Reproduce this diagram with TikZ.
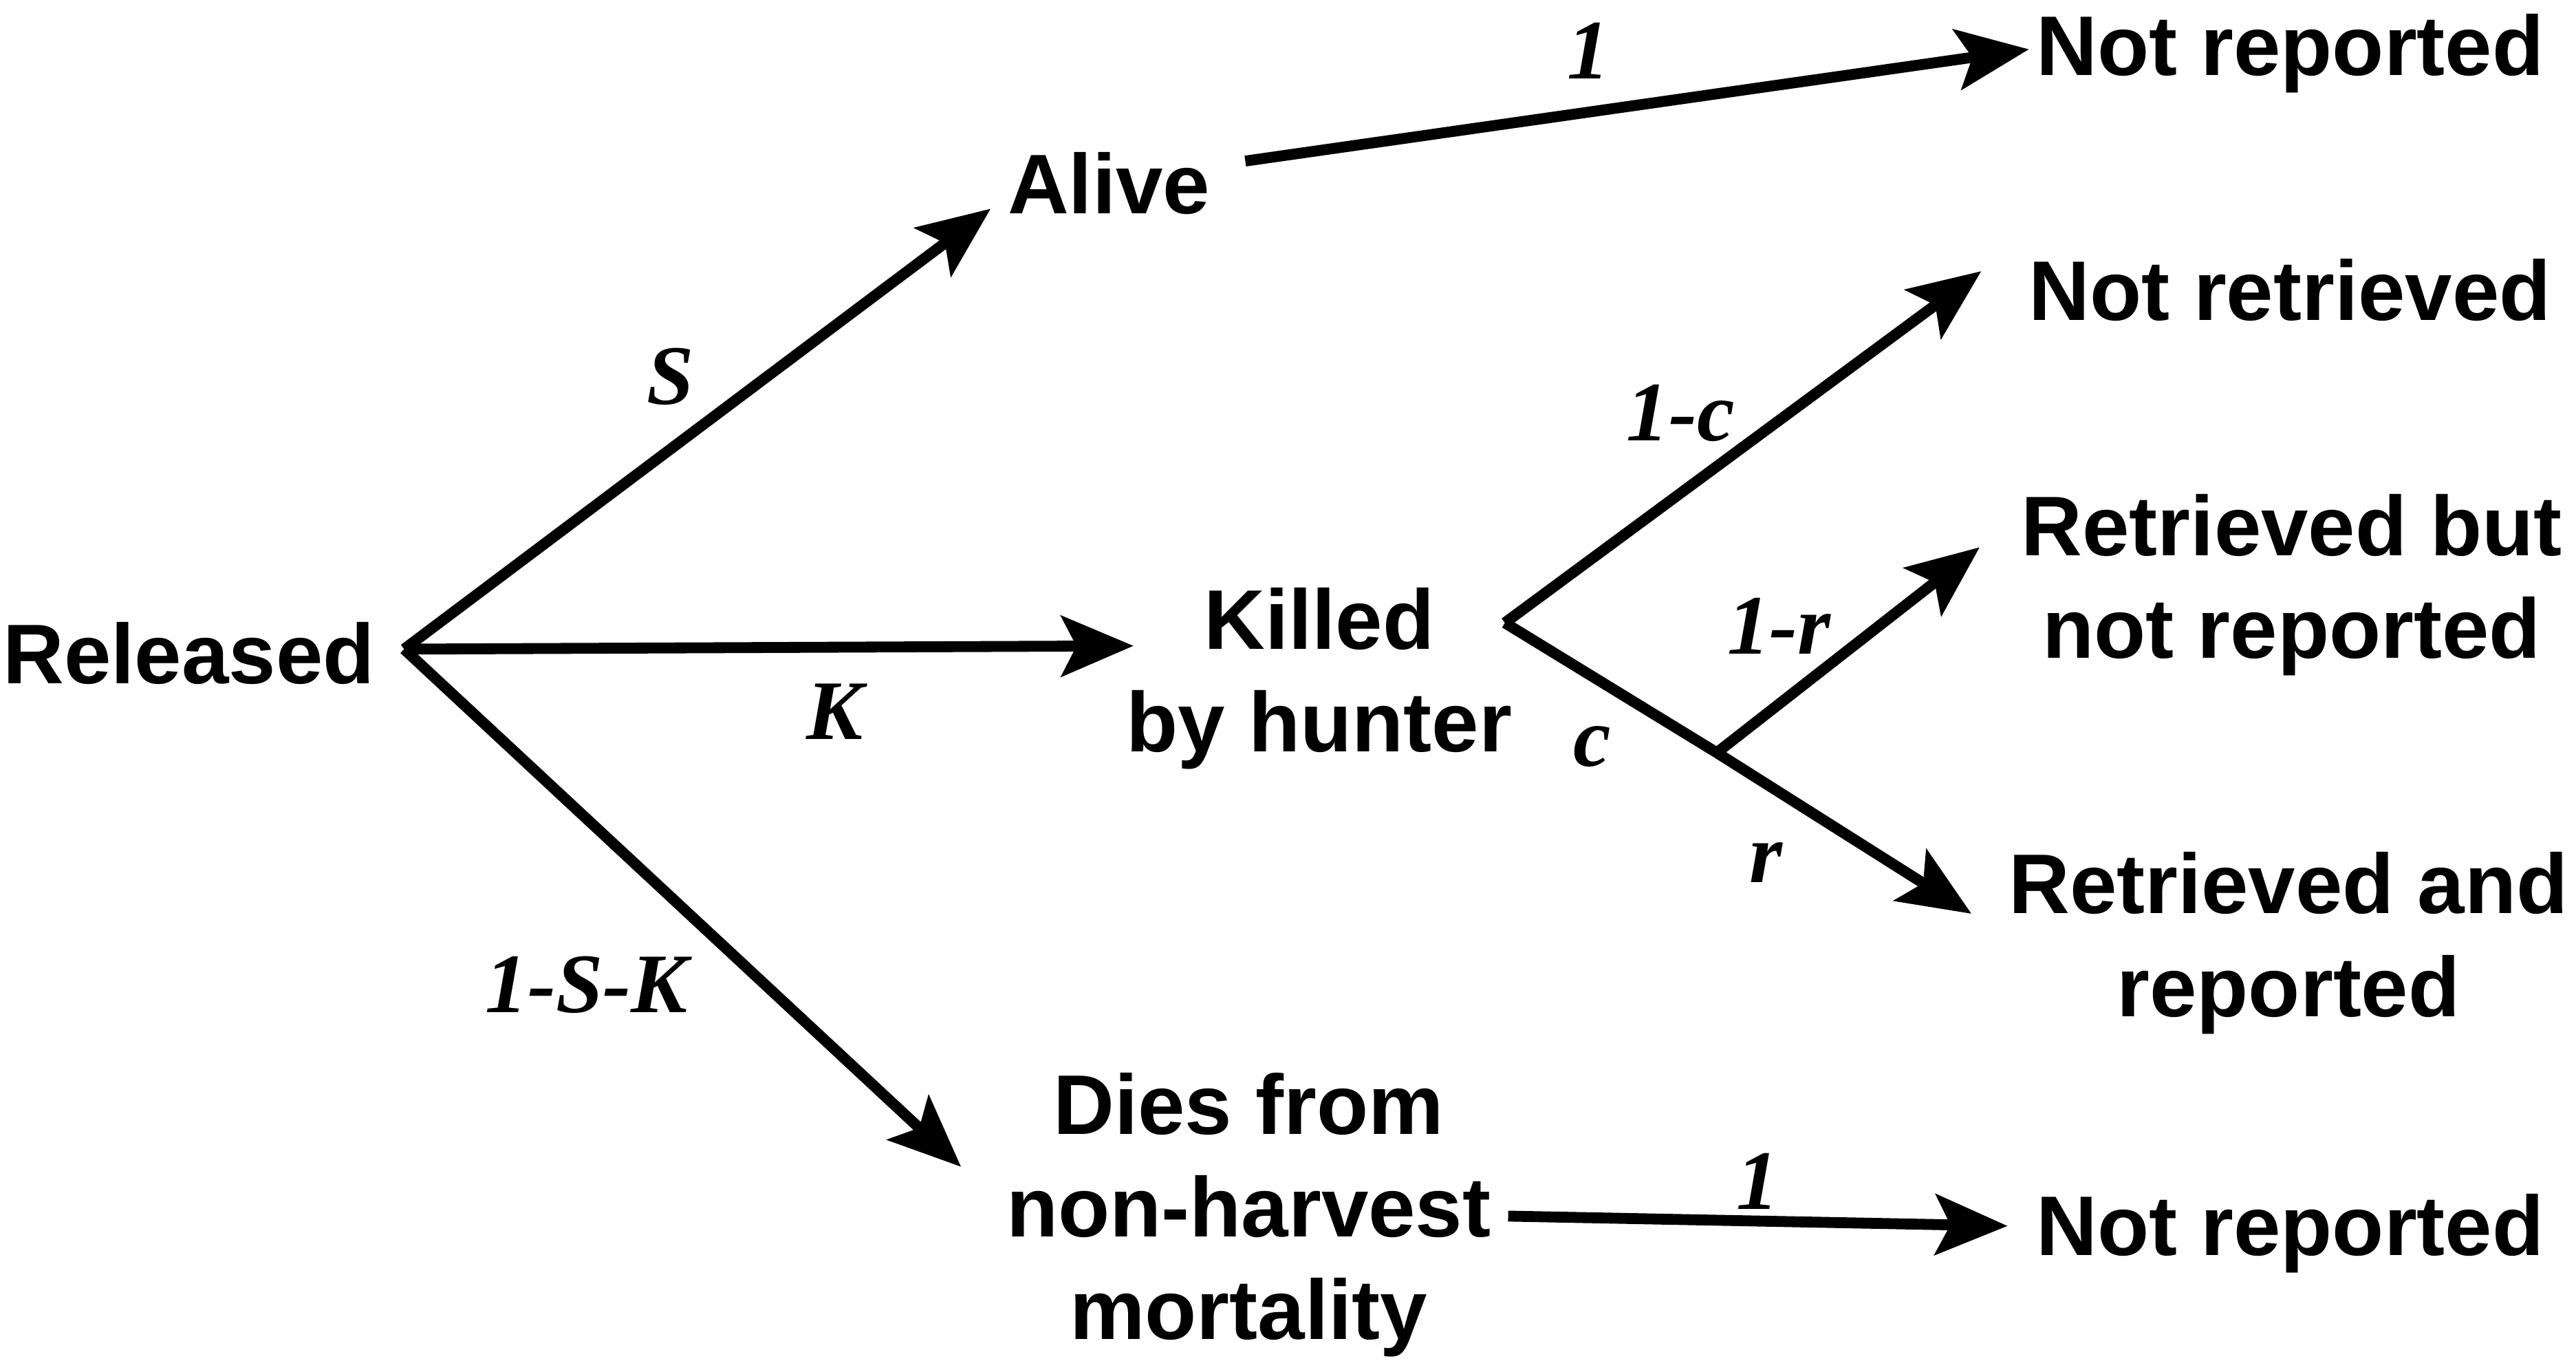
\documentclass[tikz,border=0pt]{standalone}
\usepackage{fontspec}
\setmainfont{Liberation Sans}
\newfontfamily\lblfont{Liberation Serif}
\usetikzlibrary{arrows.meta}
\newcommand{\mlines}[1]{\begin{tabular}[t]{@{}c@{}}#1\end{tabular}}
\begin{document}
\begin{tikzpicture}[x=0.02388cm, y=-0.02388cm,
  txt/.style={font=\fontsize{35}{42.5}\selectfont\bfseries, inner sep=0pt, anchor=base},
  lbl/.style={font=\fontsize{35}{42.5}\selectfont\lblfont\bfseries\itshape, inner sep=0pt, anchor=base},
  arr/.style={line width=4.5pt, -{Stealth[length=1.05cm, width=0.88cm, inset=0.22cm]}},
  seg/.style={line width=4.5pt}]
\useasboundingbox (0,0) rectangle (1568,834.5);

% nodes
\node[txt] (rel) at (115,416) {Released};
\node[txt] (alive) at (675,130) {Alive};
\node[txt] (kill) at (803,395) {\mlines{Killed\\by hunter}};
\node[txt] (dies) at (760,690) {\mlines{Dies from\\non-harvest\\mortality}};
\node[txt] (nrep1) at (1394,46) {Not reported};
\node[txt] (nret) at (1394,195) {Not retrieved};
\node[txt] (rbnr) at (1395,338) {\mlines{Retrieved but\\not reported}};
\node[txt] (rar) at (1393,556) {\mlines{Retrieved and\\reported}};
\node[txt] (nrep2) at (1394,764) {Not reported};

% connector end points
\coordinate (relOut) at (246,395);
\coordinate (aliveIn) at (603,127);
\coordinate (killIn) at (690,393);
\coordinate (diesIn) at (585,710);
\coordinate (aliveOut) at (758,98);
\coordinate (nrepAIn) at (1235,30);
\coordinate (killOut) at (916,379);
\coordinate (nretIn) at (1206,165);
\coordinate (branch) at (1045,458);
\coordinate (rbnrIn) at (1205,333);
\coordinate (rarIn) at (1200,556);
\coordinate (diesOut) at (918,740);
\coordinate (nrepBIn) at (1222,746);

% connectors
\draw[arr] (relOut) -- (aliveIn);
\draw[arr] (relOut) -- (killIn);
\draw[arr] (relOut) -- (diesIn);
\draw[arr] (aliveOut) -- (nrepAIn);
\draw[arr] (killOut) -- (nretIn);
\draw[arr] (killOut) -- (branch) -- (rarIn);
\draw[arr] (branch) -- (rbnrIn);
\draw[arr] (diesOut) -- (nrepBIn);

% labels
\node[lbl] (lS) at (408,246) {S};
\node[lbl] (lK) at (508,450) {K};
\node[lbl] (lSK) at (357,616) {1-S-K};
\node[lbl] (l1a) at (967,48) {1};
\node[lbl] (lc1) at (1023,268) {1-c};
\node[lbl] (lr1) at (1083,398) {1-r};
\node[lbl] (lc) at (969,466) {c};
\node[lbl] (lr) at (1075,537) {r};
\node[lbl] (l1b) at (1070,736) {1};
\end{tikzpicture}
\end{document}
